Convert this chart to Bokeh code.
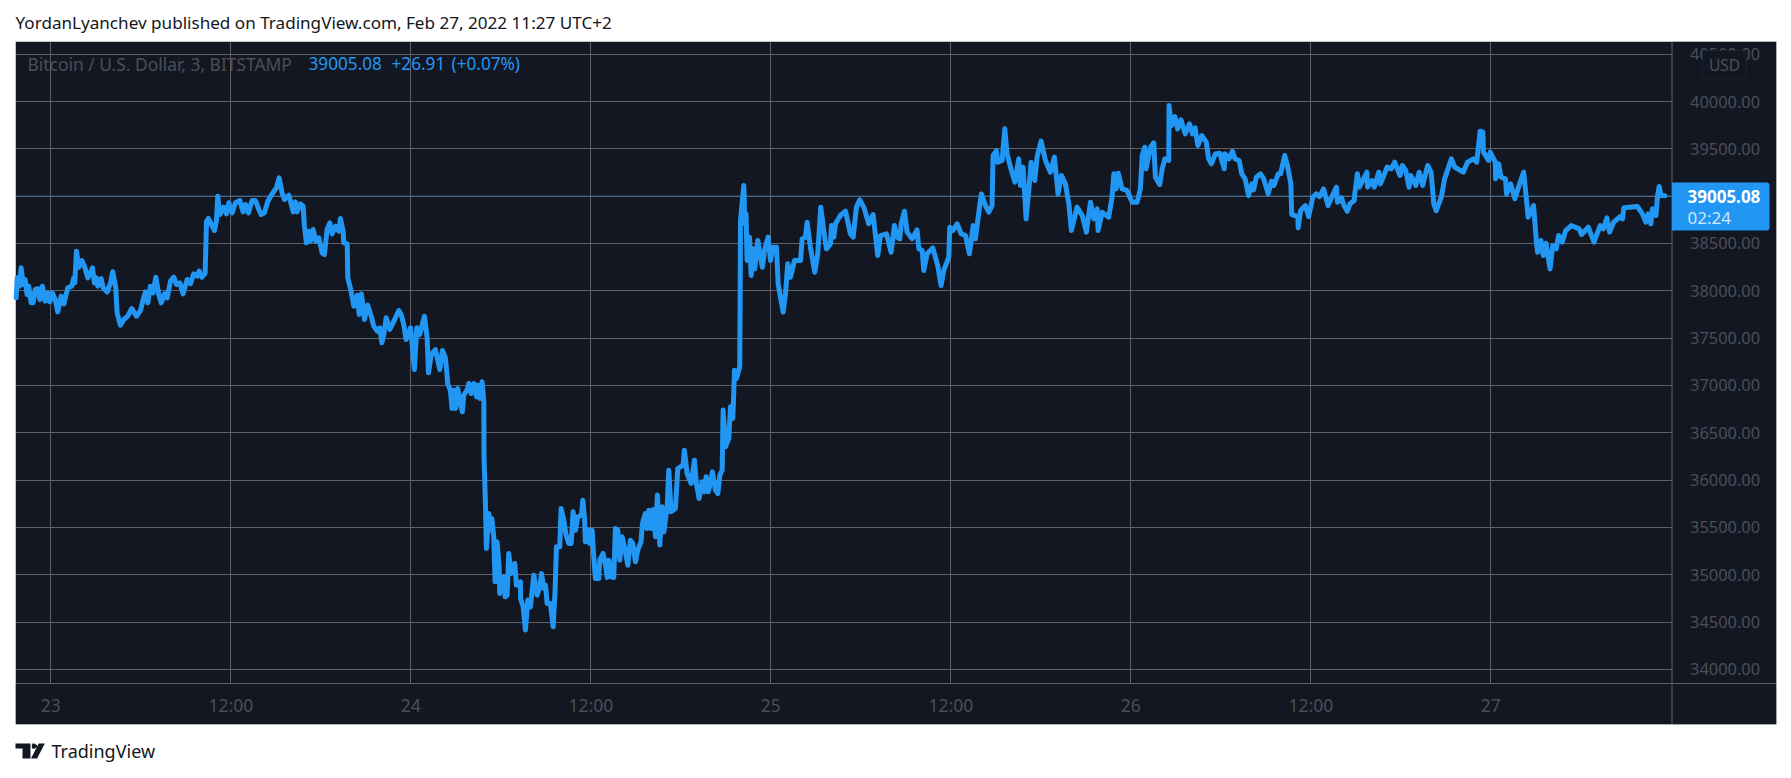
from bokeh.plotting import figure
from bokeh.models import (LinearAxis, FixedTicker, Grid, Range1d, Span, Label, BoxAnnotation,
                          PolyAnnotation, NumeralTickFormatter, ColumnDataSource)
from bokeh.embed import file_html
from bokeh.resources import INLINE

TITLE = "YordanLyanchev published on TradingView.com, Feb 27, 2022 11:27 UTC+2"
SYMBOL = "Bitcoin / U.S. Dollar, 3, BITSTAMP"
LAST = "39005.08"
CHANGE = "+26.91"
CHANGE_PCT = "(+0.07%)"
COUNTDOWN = "02:24"
CURRENCY = "USD"
BRAND = "TradingView"

x_tick_hours = [0, 12, 24, 36, 48, 60, 72, 84, 96]
x_tick_labels = ["23", "12:00", "24", "12:00", "25", "12:00", "26", "12:00", "27"]
y_ticks = [34000, 34500, 35000, 35500, 36000, 36500, 37000, 37500, 38000, 38500, 39000, 39500, 40000, 40500]

# hours after Feb 23 00:00, price in USD
hours_a = [-2.31,-2.24,-2.09,-1.98,-1.84,-1.71,-1.58,-1.47,-1.31,-1.18,-1.04,-0.87,-0.73,-0.56,-0.38,-0.20,-0.07,0.11,0.29,0.47,0.69,0.87,1.13,1.40,1.53,1.60,1.71,1.87,2.07,2.24,2.47,2.78,2.91,3.04,3.13,3.36,3.49,3.76,3.98,4.13,4.33,4.42,4.64,4.87,5.13,5.40,5.71,5.98,6.16,6.31,6.47,6.64,6.82,7.00,7.20,7.36,7.58,7.76,7.98,8.20,8.38,8.60,8.82,9.09,9.31,9.53,9.76,9.89,10.07,10.29,10.38,10.51,10.76,10.91,11.04,11.13,11.27,11.53,11.71,11.87,12.09,12.31,12.60,12.82,12.98,13.18,13.42,13.64,13.87,14.02,14.24,14.47,14.76,15.04,15.22,15.42,15.58,15.87,16.16,16.31,16.42,16.64,16.82,16.91,17.04,17.20,17.31,17.49,17.67,17.87,18.09,18.24,18.42,18.60,18.76,18.98,19.20,19.31,19.49,19.53,19.76,19.80,20.02,20.20,20.42,20.56,20.71,20.91,21.13,21.36,21.53,21.76,21.93,22.07,22.20,22.36,22.60,22.87,23.20,23.36,23.53,23.69,23.98,24.07,24.24,24.40,24.60,24.91,25.09,25.18,25.36,25.64,25.93,26.11,26.31,26.47]
price_a = [37926,38137,38049,38243,38067,38120,37961,38049,37873,37873,38014,38025,37908,38049,37891,37979,37884,37979,37908,37778,37944,37863,38032,38049,38137,38084,38419,38250,38320,38261,38137,38243,38084,38137,38049,38130,38032,37989,38084,38201,38032,37768,37637,37697,37732,37813,37732,37792,37908,37989,37873,38049,37979,38144,37961,37873,37968,37926,38102,38144,38067,38084,37968,38120,38074,38180,38155,38208,38144,38187,38736,38764,38683,38637,38736,39000,38806,38884,38813,38930,38824,38930,38954,38834,38912,38824,38954,38954,38859,38806,38824,38947,39025,39088,39194,39035,38965,39010,38834,38940,38834,38919,38894,38683,38507,38630,38525,38648,38525,38560,38401,38384,38648,38718,38602,38683,38630,38764,38630,38507,38496,38137,37996,37838,37954,37750,37968,37697,37849,37732,37627,37574,37609,37451,37539,37715,37592,37680,37792,37750,37644,37486,37609,37468,37169,37609,37539,37732,37504,37134,37327,37380,37169,37370,37292,37011]

hours_b = [26.64,26.75,26.87,26.98,27.13,27.27,27.44,27.53,27.75,27.87,28.02,28.20,28.38,28.47,28.60,28.75,28.87,28.88,28.93,28.98,29.04,29.20,29.31,29.40,29.53,29.62,29.75,29.89,29.93,30.20,30.29,30.42,30.53,30.69,30.78,30.93,31.04,31.31,31.32,31.49,31.64,31.80,31.98,32.20,32.42,32.60,32.71,32.87,32.98,33.09,33.31,33.49,33.62,33.71,33.93,34.02,34.20,34.33,34.53,34.69,34.82,34.98,35.13,35.38,35.47,35.58,35.64,35.87,35.93,36.09,36.20,36.31,36.53,36.60,36.82,37.00,37.09,37.20,37.35,37.53,37.64,37.80,37.93,38.09,38.24,38.47,38.64,38.80,38.98,39.13,39.35,39.44,39.64,39.75,39.87,40.02,40.16,40.31,40.44,40.60,40.76,40.87,41.09,41.20,41.35,41.64,41.80,42.15,42.24,42.42,42.69,42.91,43.04,43.22,43.42,43.58,43.69,43.84,44.11,44.31,44.47,44.60,44.76,44.82,44.98,45.20,45.31,45.47,45.58,45.71,45.93,45.94]
price_b = [36951,36757,36951,36757,36968,36828,36722,36898,36951,37021,36916,37021,36880,37004,36863,37039,36828,36247,36000,35719,35278,35648,35472,35595,35402,34926,35349,35085,34803,34979,34768,34785,35226,35014,35050,35120,34891,34926,34750,34662,34416,34733,34662,34997,34785,34873,35014,34856,34891,34697,34697,34451,34838,35296,35296,35701,35578,35437,35331,35331,35666,35472,35613,35630,35789,35595,35349,35472,35331,35472,35190,34961,34961,35155,35226,35085,34972,35155,34979,34972,35490,35472,35155,35402,35296,35102,35366,35331,35138,35261,35349,35542,35648,35490,35683,35490,35690,35402,35842,35314,35719,35454,35719,36106,35666,35701,36123,36159,36317,36071,35965,36211,35965,35807,35983,35877,36035,35877,36088,35895,35859,36053,36106,36740,36352,36440,36775,36652,37162,37074,37197,37479]

hours_c = [45.96,45.98,46.20,46.27,46.35,46.42,46.58,46.69,46.82,46.93,47.13,47.31,47.44,47.58,47.82,47.98,48.15,48.38,48.49,48.82,48.98,49.13,49.31,49.58,49.98,50.09,50.31,50.42,50.64,50.93,51.13,51.33,51.53,51.71,51.98,52.04,52.20,52.31,52.64,52.98,53.31,53.49,53.71,53.93,54.20,54.53,54.82,55.13,55.31,55.71,56.02,56.24,56.42,56.60,56.69,56.91,57.09,57.42,57.75,57.87,58.09,58.20,58.42,58.80,59.13,59.35,59.53,59.87,59.93,60.13,60.42,60.69,60.98,61.24,61.49,61.64,61.80,61.93,62.04,62.31,62.53,62.75,62.82,63.04,63.13,63.42,63.60,63.75,63.98,64.27,64.53,64.64,64.82,65.02,65.20,65.35,65.60,65.75,66.02,66.31,66.64,66.91,67.15,67.38,67.64,67.87,68.04,68.42,68.76,69.04,69.31,69.53,69.76,69.82,70.09,70.53,70.75,70.87,71.02,71.16,71.42,71.75,72.09,72.42,72.64,72.76,72.93,73.02,73.31,73.53,73.64,73.93,74.09,74.27,74.53,74.55]
price_c = [38003,38743,39113,38708,38813,38320,38567,38162,38444,38232,38532,38356,38250,38426,38567,38320,38461,38461,38074,37775,37968,38285,38144,38320,38320,38549,38567,38725,38461,38197,38391,38884,38637,38444,38496,38690,38567,38708,38796,38841,38602,38567,38884,38961,38884,38708,38806,38373,38584,38602,38408,38690,38567,38549,38708,38841,38620,38549,38644,38444,38426,38215,38391,38454,38267,38056,38215,38356,38672,38637,38708,38602,38584,38391,38690,38549,38743,38901,39024,38901,38831,38901,39429,39482,39359,39377,39711,39447,39306,39148,39394,39113,39306,38760,39060,39359,39165,39412,39581,39377,39253,39412,39024,39218,39130,38919,38637,38884,38796,38620,38936,38760,38866,38637,38831,38778,38989,39236,39077,39243,39077,39060,38936,38936,39077,39429,39517,39289,39517,39563,39201,39123,39289,39394,39377,39958]

hours_d = [74.71,74.94,75.12,75.34,75.63,75.91,76.11,76.29,76.47,76.74,77.03,77.19,77.37,77.64,77.93,78.23,78.27,78.54,78.77,78.95,79.22,79.40,79.62,79.85,80.07,80.19,80.37,80.64,80.86,81.16,81.38,81.54,81.83,81.99,82.26,82.44,82.67,82.73,83.14,83.16,83.32,83.64,83.86,84.13,84.36,84.58,84.85,85.15,85.42,85.71,85.78,86.05,86.21,86.43,86.61,86.90,86.93,87.11,87.24,87.74,87.78,88.08,88.23,88.53,88.64,89.09,89.36,89.59,89.95,90.10,90.33,90.55,90.67,91.00,91.23,91.46,91.79,92.02,92.20,92.36,92.70,92.92,93.37,93.60,94.16,94.45,94.84,95.06,95.29,95.47,95.51,95.85,95.96,96.30,96.32,96.53,96.68,96.98,97.05,97.32,97.61,97.92,98.19,98.33,98.49,98.85,99.05,99.12,99.34,99.50,99.68,99.95,100.13,100.36,100.52,100.76,100.99,101.37,101.89,102.05,102.50,102.88,103.29,103.51,103.74,103.92,104.19,104.64,104.78,104.87,105.77,106.11,106.33,106.49,106.67,106.78,107.01,107.12,107.23,107.35,107.62]
price_d = [39746,39841,39711,39806,39658,39764,39658,39722,39535,39641,39570,39394,39341,39447,39454,39289,39447,39394,39475,39394,39377,39236,39183,39007,39130,39067,39201,39236,39183,39024,39158,39113,39236,39236,39429,39324,39130,38806,38785,38665,38848,38901,38785,38989,39024,38996,39077,38901,38996,39095,38936,38982,38901,38841,38919,38954,39024,39236,39095,39253,39095,39165,39095,39253,39130,39306,39289,39359,39218,39324,39271,39095,39218,39113,39253,39113,39324,39253,38919,38848,38989,39183,39394,39306,39253,39359,39394,39359,39686,39676,39465,39377,39465,39359,39183,39341,39201,39183,39024,39130,38972,39130,39253,39042,38778,38901,38496,38408,38532,38373,38503,38232,38479,38444,38584,38514,38637,38690,38655,38595,38672,38514,38690,38655,38771,38620,38725,38785,38760,38877,38891,38813,38725,38813,38708,38866,38796,39007,39102,39007,39005]

BG = "#131722"
GRID = "#5f616a"
DIM = "#4b4e57"
BLUE = "#2196F3"
EDGE = "#c8cbd3"

# page pixel -> axis unit helpers, used only for the chrome around the chart
def hx(px):
    return (px - 50.3) / 15.0
def py(py_):
    return 40000 - (py_ - 101.0) * 500 / 47.333

L, R, T, B, DIV, SEP = 15, 1776, 41, 724, 1671.5, 683

p = figure(width=1791, height=778, output_backend="svg", toolbar_location=None,
           x_range=Range1d(hx(0), hx(1791)), y_range=Range1d(py(778), py(0)),
           x_axis_location=None, y_axis_location=None,
           min_border_left=0, min_border_right=0, min_border_top=0, min_border_bottom=0,
           background_fill_color="white", border_fill_color="white", outline_line_color=None)
p.grid.visible = False

xticker = FixedTicker(ticks=x_tick_hours)
yticker = FixedTicker(ticks=y_ticks)

def box(x0, x1, y0, y1, color, level="underlay"):
    p.add_layout(BoxAnnotation(left=hx(x0), right=hx(x1), top=py(y0), bottom=py(y1),
                               fill_color=color, fill_alpha=1, line_alpha=0, level=level))

box(L, R, T, B, BG, level="image")
p.add_layout(Grid(dimension=0, ticker=xticker, grid_line_color=GRID, grid_line_width=1))
p.add_layout(Grid(dimension=1, ticker=yticker, grid_line_color=GRID, grid_line_width=1))
p.add_layout(Span(location=39005.08, dimension="width", line_color=BLUE, line_alpha=0.3, line_width=1,
                  level="underlay"))
# panes of the two scales hide the grid ends
box(DIV, R, T, B, BG)
box(L, R, SEP, B, BG)
p.add_layout(Span(location=hx(DIV), dimension="height", line_color=GRID, line_width=1, level="underlay"))
p.add_layout(Span(location=py(SEP), dimension="width", line_color=GRID, line_width=1, level="underlay"))
# white page outside the panel
box(-10, L, -10, 788, "white")
box(R, 1801, -10, 788, "white")
box(-10, 1801, -10, T, "white")
box(-10, 1801, B, 788, "white")
p.add_layout(BoxAnnotation(left=hx(L), right=hx(R), top=py(T), bottom=py(B), fill_alpha=0,
                           line_color=EDGE, line_width=1, level="underlay"))

hours = hours_a + hours_b + hours_c + hours_d
prices = price_a + price_b + price_c + price_d
src = ColumnDataSource(dict(h=hours, price=prices))
p.line("h", "price", source=src, line_color=BLUE, line_width=5, line_join="round", line_cap="round")

FONT = "Noto Sans"
yaxis = LinearAxis(fixed_location=hx(DIV), ticker=yticker, formatter=NumeralTickFormatter(format="0.00"),
                   axis_line_color=None, major_tick_line_color=None, minor_tick_line_color=None,
                   major_label_text_color=DIM, major_label_text_font=FONT, major_label_text_font_size="16.4px",
                   major_label_standoff=12)
p.add_layout(yaxis, "right")
xaxis = LinearAxis(fixed_location=py(SEP), ticker=xticker,
                   major_label_overrides=dict(zip(x_tick_hours, x_tick_labels)),
                   axis_line_color=None, major_tick_line_color=None, minor_tick_line_color=None,
                   major_label_text_color=DIM, major_label_text_font=FONT, major_label_text_font_size="17.5px",
                   major_label_standoff=3)
p.add_layout(xaxis, "below")

def label(px, y, text, color, size, weight="normal", align="left", alpha=1.0, font=FONT):
    p.add_layout(Label(x=hx(px), y=py(y), text=text, text_color=color, text_font_size=size, text_font=font,
                       text_font_style=weight, text_align=align, text_baseline="middle", text_alpha=alpha))

label(15, 22, TITLE, "#131722", "17.1px")
label(27, 63, SYMBOL, DIM, "17.4px")
label(308, 63, LAST, BLUE, "17.2px")
label(391, 63, CHANGE, BLUE, "17.2px")
label(451, 63, CHANGE_PCT, BLUE, "17.2px")

# last-price tag
p.add_layout(BoxAnnotation(left=hx(DIV), right=hx(1769), top=py(182), bottom=py(230),
                           fill_color=BLUE, fill_alpha=1, line_alpha=0, border_radius=(0, 3, 3, 0)))
label(1687, 195.6, LAST, "#ffffff", "17px", weight="bold")
label(1687, 217, COUNTDOWN, "#ffffff", "17px", alpha=0.8)

# currency badge
p.add_layout(BoxAnnotation(left=hx(1702), right=hx(1746), top=py(50), bottom=py(78),
                           fill_color=BG, fill_alpha=1, line_color="#363a45", line_width=1, border_radius=4))
label(1724, 64, CURRENCY, DIM, "15.5px", align="center")

# brand mark
def poly(xs, ys):
    p.add_layout(PolyAnnotation(xs=[hx(v) for v in xs], ys=[py(v) for v in ys], fill_color="#131722",
                                fill_alpha=1, line_alpha=0))
poly([15, 30, 30, 22, 22, 15], [743, 743, 758, 758, 748, 748])
poly([32, 34, 36.7, 36.7, 34, 32, 31.3, 31.3], [743, 743, 745, 746.5, 748.3, 748.3, 746.5, 745])
poly([38.2, 44.3, 36.6, 30.5], [743, 743, 758, 758])
label(51, 750.5, BRAND, "#131722", "18px")

open("out.html", "w").write(file_html(p, INLINE))
